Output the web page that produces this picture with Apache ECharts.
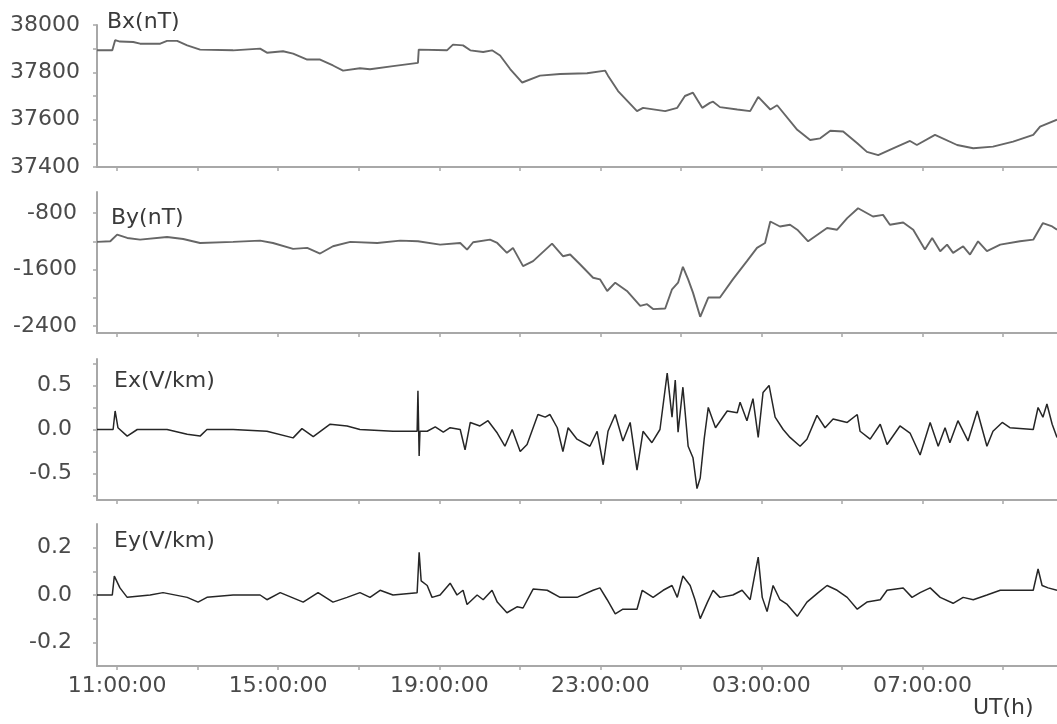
<!DOCTYPE html>
<html>
<head>
<meta charset="utf-8">
<script src="https://cdn.jsdelivr.net/npm/echarts@6/dist/echarts.min.js"></script>
<style>
html,body{margin:0;padding:0;background:#fff;}
#chart{width:1057px;height:724px;}
</style>
</head>
<body>
<div id="chart"></div>
<script>
// ---- data (time in UT hours, continuing past 24 into the next day) ----
const panelTitles = ['Bx(nT)', 'By(nT)', 'Ex(V/km)', 'Ey(V/km)'];
const xTickHours = [11, 13, 15, 17, 19, 21, 23, 25, 27, 29, 31, 33];
const xLabelHours = [11, 15, 19, 23, 27, 31];

const bxTime = [10.50,10.88,10.95,11.07,11.40,11.57,12.07,12.24,12.49,12.74,13.06,13.88,14.55,14.72,15.12,15.37,15.72,16.04,16.36,16.61,17.03,17.28,17.85,18.47,18.49,19.19,19.34,19.59,19.77,20.09,20.31,20.51,20.76,21.06,21.50,22.00,22.67,23.12,23.19,23.44,23.91,24.06,24.61,24.91,25.10,25.30,25.53,25.72,25.80,25.97,26.40,26.72,26.92,27.22,27.39,27.89,28.21,28.46,28.71,29.03,29.38,29.62,29.90,30.27,30.69,30.86,31.31,31.86,32.26,32.75,33.25,33.75,33.92,34.34];
const bxValue = [37893,37893,37936,37930,37928,37921,37921,37933,37933,37914,37896,37893,37900,37883,37889,37879,37854,37854,37829,37807,37817,37813,37826,37840,37896,37893,37917,37914,37893,37886,37893,37871,37814,37757,37786,37793,37796,37807,37786,37721,37636,37650,37636,37650,37700,37714,37650,37671,37676,37653,37643,37636,37696,37643,37661,37557,37514,37521,37553,37550,37500,37464,37450,37479,37510,37493,37536,37493,37479,37486,37507,37536,37571,37600];

const byTime = [10.50,10.83,11.00,11.25,11.57,12.24,12.64,13.06,13.88,14.55,14.87,15.37,15.72,16.04,16.36,16.79,17.46,18.03,18.47,19.02,19.52,19.69,19.84,20.26,20.44,20.68,20.83,21.08,21.33,21.80,22.07,22.25,22.50,22.82,22.99,23.17,23.37,23.66,23.99,24.16,24.31,24.61,24.78,24.93,25.05,25.18,25.30,25.48,25.68,25.97,26.29,26.64,26.89,27.09,27.22,27.46,27.71,27.89,28.16,28.63,28.88,29.13,29.40,29.77,30.02,30.19,30.52,30.77,31.06,31.24,31.44,31.61,31.76,32.01,32.18,32.38,32.60,32.93,33.42,33.75,33.99,34.22,34.34];
const byValue = [-1208,-1199,-1105,-1152,-1176,-1138,-1166,-1223,-1208,-1190,-1223,-1307,-1293,-1373,-1270,-1208,-1223,-1190,-1199,-1246,-1223,-1317,-1213,-1176,-1223,-1363,-1293,-1552,-1481,-1232,-1411,-1387,-1528,-1716,-1739,-1904,-1786,-1904,-2115,-2091,-2161,-2152,-1880,-1786,-1561,-1739,-1927,-2270,-1997,-1997,-1739,-1481,-1293,-1223,-918,-989,-965,-1035,-1199,-1011,-1035,-871,-730,-848,-824,-965,-932,-1035,-1317,-1152,-1340,-1246,-1363,-1270,-1387,-1199,-1340,-1246,-1199,-1176,-941,-989,-1035];

const exTime = [10.50,10.90,10.95,11.02,11.25,11.50,12.24,12.74,13.06,13.23,13.88,14.72,15.37,15.59,15.87,16.29,16.71,17.03,17.85,18.45,18.47,18.50,18.52,18.70,18.90,19.10,19.27,19.52,19.64,19.77,20.01,20.21,20.44,20.63,20.81,21.01,21.18,21.45,21.63,21.75,21.93,22.07,22.20,22.42,22.74,22.92,23.07,23.19,23.37,23.56,23.74,23.91,24.06,24.28,24.48,24.66,24.78,24.86,24.93,25.05,25.18,25.30,25.40,25.48,25.58,25.68,25.86,26.15,26.40,26.47,26.64,26.79,26.92,27.04,27.19,27.34,27.54,27.71,27.96,28.13,28.38,28.58,28.78,29.13,29.38,29.45,29.70,29.95,30.12,30.44,30.69,30.94,31.19,31.39,31.56,31.68,31.88,32.13,32.36,32.60,32.75,32.98,33.17,33.75,33.87,33.99,34.09,34.22,34.34];
const exValue = [0.00,0.00,0.21,0.02,-0.075,0.00,0.00,-0.055,-0.075,0.00,0.00,-0.02,-0.095,0.01,-0.08,0.06,0.04,0.00,-0.02,-0.02,0.44,-0.30,-0.02,-0.02,0.03,-0.03,0.02,0.00,-0.23,0.08,0.04,0.10,-0.04,-0.19,0.00,-0.25,-0.17,0.17,0.14,0.17,0.02,-0.25,0.02,-0.11,-0.19,-0.02,-0.40,-0.02,0.17,-0.13,0.08,-0.46,-0.02,-0.15,0.00,0.64,0.14,0.56,-0.03,0.48,-0.19,-0.32,-0.67,-0.55,-0.10,0.25,0.02,0.21,0.19,0.31,0.10,0.35,-0.09,0.42,0.50,0.14,0.00,-0.09,-0.19,-0.11,0.16,0.02,0.12,0.08,0.17,-0.02,-0.11,0.06,-0.17,0.04,-0.04,-0.29,0.08,-0.19,0.02,-0.15,0.10,-0.13,0.21,-0.19,-0.02,0.08,0.02,0.00,0.25,0.14,0.29,0.06,-0.09];

const eyTime = [10.50,10.88,10.93,11.07,11.25,11.82,12.14,12.74,13.01,13.23,13.88,14.55,14.72,15.05,15.62,15.99,16.36,16.71,17.03,17.28,17.53,17.85,18.45,18.50,18.55,18.70,18.82,19.02,19.27,19.44,19.59,19.69,19.94,20.09,20.31,20.44,20.68,20.93,21.08,21.33,21.68,22.00,22.42,22.82,22.99,23.17,23.37,23.56,23.91,24.04,24.31,24.56,24.78,24.91,25.05,25.23,25.35,25.48,25.66,25.80,25.97,26.29,26.52,26.72,26.84,26.92,27.02,27.14,27.29,27.46,27.64,27.89,28.13,28.41,28.63,28.88,29.13,29.38,29.62,29.95,30.12,30.52,30.74,30.94,31.19,31.44,31.76,32.01,32.26,32.60,32.93,33.35,33.75,33.87,33.97,34.12,34.34];
const eyValue = [0.00,0.00,0.08,0.03,-0.01,0.00,0.01,-0.01,-0.03,-0.01,0.00,0.00,-0.02,0.01,-0.03,0.01,-0.03,-0.01,0.01,-0.01,0.02,0.00,0.01,0.18,0.06,0.04,-0.01,0.00,0.05,0.00,0.02,-0.04,0.00,-0.02,0.02,-0.03,-0.075,-0.05,-0.055,0.025,0.02,-0.01,-0.01,0.02,0.03,-0.02,-0.08,-0.06,-0.06,0.02,-0.01,0.02,0.04,-0.01,0.08,0.04,-0.02,-0.10,-0.03,0.02,-0.01,0.00,0.02,-0.02,0.09,0.16,-0.01,-0.07,0.04,-0.02,-0.04,-0.09,-0.03,0.01,0.04,0.02,-0.01,-0.06,-0.03,-0.02,0.02,0.03,-0.01,0.01,0.03,-0.01,-0.035,-0.01,-0.02,0.00,0.02,0.02,0.02,0.11,0.04,0.03,0.02];

const bxTicks = [37400,37500,37600,37700,37800,37900,38000];
const bxLabels = [37400,37600,37800,38000];
const byTicks = [-2400,-2000,-1600,-1200,-800];
const byLabels = [-2400,-1600,-800];
const exTicks = [-0.75,-0.5,-0.25,0,0.25,0.5,0.75];
const exLabels = [-0.5,0,0.5];
const eyTicks = [-0.2,-0.1,0,0.1,0.2];
const eyLabels = [-0.2,0,0.2];

// ---- layout / style ----
const FONT = 'DejaVu Sans';
const FS = 21;
const X_MIN = 10.5, X_MAX = 34.34;
const panels = [
  {top: 25,  height: 142, min: 37400, max: 38000, ticks: bxTicks, labels: bxLabels, fmt: v => String(Math.round(v)), margin: 17, t: bxTime, v: bxValue, color: '#666666', width: 1.9, titleX: 107, titleY: 24},
  {top: 192, height: 141, min: -2500, max: -500, ticks: byTicks, labels: byLabels, fmt: v => String(Math.round(v)), margin: 20, t: byTime, v: byValue, color: '#666666', width: 1.9, titleX: 111, titleY: 220},
  {top: 359, height: 141, min: -0.8, max: 0.8, ticks: exTicks, labels: exLabels, fmt: v => (Math.abs(v) < 1e-9 ? 0 : v).toFixed(1), margin: 25, t: exTime, v: exValue, color: '#262626', width: 1.5, titleX: 114, titleY: 383},
  {top: 524, height: 142, min: -0.3, max: 0.3, ticks: eyTicks, labels: eyLabels, fmt: v => (Math.abs(v) < 1e-9 ? 0 : v).toFixed(1), margin: 25, t: eyTime, v: eyValue, color: '#262626', width: 1.5, titleX: 114, titleY: 543}
];

const axisLineStyle = {color: '#a8a8a8', width: 2};
const grids = [], xAxes = [], yAxes = [], series = [], graphics = [];
panels.forEach((p, i) => {
  grids.push({left: 97, right: 0, top: p.top, height: p.height});
  const last = i === panels.length - 1;
  xAxes.push({
    type: 'value', gridIndex: i, min: X_MIN, max: X_MAX,
    axisLine: {show: true, onZero: false, lineStyle: axisLineStyle},
    axisTick: {show: true, inside: false, length: 4, customValues: xTickHours, lineStyle: {color: '#a8a8a8', width: 1.5}},
    axisLabel: {show: last, customValues: xLabelHours, margin: 9, color: '#4a4a4a', fontFamily: FONT, fontSize: FS + 1,
      formatter: v => String(Math.round(v) % 24).padStart(2, '0') + ':00:00'},
    splitLine: {show: false}
  });
  yAxes.push({
    type: 'value', gridIndex: i, min: p.min, max: p.max,
    axisLine: {show: true, lineStyle: axisLineStyle},
    axisTick: {show: true, inside: false, length: 4, customValues: p.ticks, lineStyle: {color: '#a8a8a8', width: 1.5}},
    axisLabel: {customValues: p.labels, margin: p.margin, color: '#4a4a4a', fontFamily: FONT, fontSize: FS + 1, formatter: p.fmt},
    splitLine: {show: false}
  });
  series.push({
    type: 'line', xAxisIndex: i, yAxisIndex: i, showSymbol: false, symbol: 'none',
    data: p.t.map((t, k) => [t, p.v[k]]),
    lineStyle: {color: p.color, width: p.width}, smooth: false, silent: true
  });
  graphics.push({type: 'text', left: p.titleX, top: p.titleY - 13,
    style: {text: panelTitles[i], fill: '#3a3a3a', font: (FS + 1) + 'px "' + FONT + '"'}});
});
graphics.push({type: 'text', left: 973, top: 697, style: {text: 'UT(h)', fill: '#3a3a3a', font: (FS + 1) + 'px "' + FONT + '"'}});

const chart = echarts.init(document.getElementById('chart'), null, {renderer: 'canvas'});
chart.setOption({
  animation: false,
  backgroundColor: '#ffffff',
  grid: grids, xAxis: xAxes, yAxis: yAxes, series: series, graphic: graphics
});
</script>
</body>
</html>
